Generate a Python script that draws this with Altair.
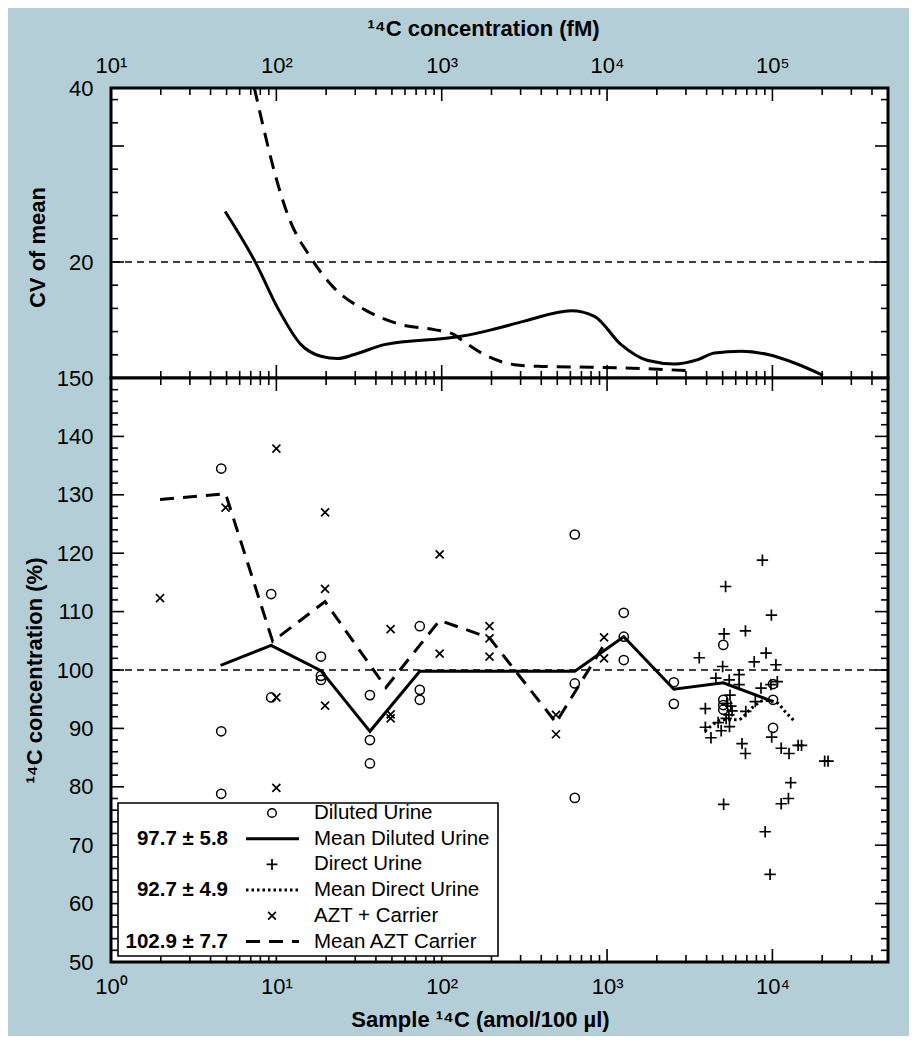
import altair as alt
import pandas as pd

# ---------------- data ----------------
# bottom panel: sample 14C (amol/100 ul) vs 14C concentration (%)
diluted_x = [4.64, 4.64, 4.64, 9.3, 9.3, 18.6, 18.6, 18.6, 36.8, 36.8, 36.8,
             73.7, 73.7, 73.7, 638, 638, 638, 1262, 1262, 1262, 2535, 2535,
             5046, 5046, 5046, 5046, 10090, 10090, 10090]
diluted_y = [134.5, 89.5, 78.8, 113.0, 95.3, 102.3, 99.0, 98.3, 95.7, 88.0, 84.0,
             107.5, 96.6, 94.9, 123.2, 97.7, 78.1, 109.8, 105.7, 101.7, 97.9, 94.2,
             104.3, 94.9, 94.0, 93.2, 97.6, 94.9, 90.1]

mean_diluted_x = [4.6, 9.3, 18.6, 36.8, 73.7, 638, 1262, 2535, 5046, 10090]
mean_diluted_y = [100.8, 104.2, 99.9, 89.5, 99.8, 99.8, 105.7, 96.7, 97.8, 94.6]

direct_x = [8700, 5210, 9860, 5100, 6870, 3610, 5000, 7760, 9150, 10500,
            4550, 5480, 6290, 6290, 10700, 9800, 8530, 5540, 7880, 3930,
            6900, 5700, 5450, 5250, 3930, 4250, 5500, 6550, 6870, 9900,
            11300, 12600, 14300, 15000, 20700, 21700, 12900, 12500, 11300, 5070,
            9040, 9680, 5300, 5600, 4700, 4900]
direct_y = [118.8, 114.3, 109.4, 106.2, 106.7, 102.1, 100.6, 101.4, 102.9, 100.9,
            98.6, 98.3, 99.2, 97.5, 98.0, 97.5, 96.9, 95.7, 94.6, 93.4,
            92.9, 93.0, 92.3, 91.7, 90.2, 88.4, 90.3, 87.4, 85.7, 88.5,
            86.6, 85.7, 87.1, 87.1, 84.4, 84.4, 80.7, 78.0, 77.1, 77.0,
            72.3, 65.0, 94.3, 93.8, 91.0, 89.6]

mean_direct_x = [3900, 4300, 5000, 6200, 7500, 9000, 10500, 12000, 13500]
mean_direct_y = [89.5, 90.5, 91.5, 91.5, 93.5, 94.8, 94.5, 92.8, 91.3]

azt_x = [1.98, 4.93, 10.0, 10.0, 10.0, 19.7, 19.7, 19.7, 49.1, 49.1, 49.1,
         97.2, 97.2, 194.5, 194.5, 194.5, 491, 491, 959, 959]
azt_y = [112.3, 127.8, 137.9, 95.3, 79.8, 127.0, 113.9, 93.9, 107.0, 92.4, 91.7,
         119.8, 102.8, 107.5, 105.4, 102.3, 92.3, 89.0, 105.6, 102.0]

mean_azt_x = [1.98, 4.93, 9.5, 19.7, 46.0, 97.2, 194.5, 491, 959]
mean_azt_y = [129.2, 130.2, 104.9, 111.7, 97.0, 108.5, 105.5, 91.0, 104.3]

# top panel: CV of mean
cv_diluted_x = [4.9, 7.5, 10.2, 14.1, 18.6, 23.5, 29.6, 45, 131, 199, 316, 607,
                839, 1216, 1766, 2558, 3542, 4463, 6475, 9390, 13600, 20200]
cv_diluted_y = [25.8, 19.9, 14.7, 10.5, 9.16, 8.9, 9.36, 10.5, 11.46, 12.2, 13.2,
                14.4, 13.76, 10.5, 8.67, 8.28, 8.78, 9.54, 9.74, 9.36, 8.39, 6.98]

cv_azt_x = [7.36, 8.46, 9.72, 11.7, 16.2, 22.4, 35.7, 56.8, 90.3, 119, 131, 181,
            275, 400, 801, 1608, 3010]
cv_azt_y = [40.0, 35.02, 30.4, 25.45, 20.46, 17.0, 14.33, 12.8, 12.23, 11.65,
            11.08, 9.36, 8.2, 8.0, 7.9, 7.75, 7.52]

# axes
x_major = [1, 10, 100, 1000, 10000]
x_minor = [m * 10 ** e for e in range(0, 5) for m in range(2, 10) if m * 10 ** e <= 50000]
bottom_tick_labels = ["10⁰", "10¹", "10²", "10³", "10⁴"]
top_tick_labels = ["10¹", "10²", "10³", "10⁴", "10⁵"]
y_major = list(range(50, 151, 10))
y_minor = [v for v in range(52, 150, 2) if v % 10 != 0]
cv_labels = [20, 40]
cv_major = [20, 33.333]
cv_minor = [9.333, 12, 14.667, 17.333, 22.667, 25.333, 28, 30.667, 36, 38.667]

legend_labels = ["Diluted Urine", "Mean Diluted Urine", "Direct Urine",
                 "Mean Direct Urine", "AZT + Carrier", "Mean AZT Carrier"]
legend_numbers = ["", "97.7 ± 5.8", "", "92.7 ± 4.9", "", "102.9 ± 7.7"]

# ---------------- styling ----------------
FONT = "Liberation Sans"
BG = "#b3ced6"
W = 777
H_TOP = 290
H_BOT = 584
PLUS = "M-1,0L1,0M0,-1L0,1"
XSHAPE = "M-1,-1L1,1M-1,1L1,-1"

xscale = alt.Scale(type="log", domain=[1, 50000], nice=False)
yscale_bot = alt.Scale(domain=[50, 150], nice=False, zero=False)
yscale_top = alt.Scale(domain=[6.667, 40], nice=False, zero=False)


def label_expr(values, labels):
    parts = " : ".join(f"datum.value == {v} ? '{l}'" for v, l in zip(values, labels))
    return parts + " : ''"


def xticks(vals, y0, y1):
    return alt.Chart(pd.DataFrame({"v": vals})).mark_rule(
        color="black", strokeWidth=1.6).encode(
        x=alt.X("v:Q", scale=xscale, axis=None),
        y=alt.value(y0), y2=alt.value(y1))


def yticks(vals, x0, x1, yscale):
    return alt.Chart(pd.DataFrame({"v": vals})).mark_rule(
        color="black", strokeWidth=1.6).encode(
        y=alt.Y("v:Q", scale=yscale, axis=None),
        x=alt.value(x0), x2=alt.value(x1))


def line(xs, ys, yscale, dash=None, width=3.0, cap="butt", interp="linear"):
    kw = dict(color="black", strokeWidth=width, strokeCap=cap, clip=True,
              interpolate=interp)
    if dash:
        kw["strokeDash"] = dash
    return alt.Chart(pd.DataFrame({"x": xs, "y": ys, "o": range(len(xs))})).mark_line(**kw).encode(
        x=alt.X("x:Q", scale=xscale, axis=None),
        y=alt.Y("y:Q", scale=yscale, axis=None),
        order="o:Q")


# ---------------- top panel ----------------
top_axis_layer = alt.Chart(pd.DataFrame({"x": [1], "y": [20]})).mark_point(opacity=0).encode(
    x=alt.X("x:Q", scale=xscale, axis=alt.Axis(
        orient="top", values=x_major, labelExpr=label_expr(x_major, top_tick_labels),
        title="¹⁴C concentration (fM)", titleX=372, titleY=-60, titleBaseline="middle",
        titleAlign="center")),
    y=alt.Y("y:Q", scale=yscale_top, axis=alt.Axis(
        values=cv_labels, labelExpr=label_expr(cv_labels, ["20", "40"]),
        title="CV of mean", titleX=-74, titleY=159, titleBaseline="middle",
        titleAlign="center", titleAngle=-90)),
)

ref_top = alt.Chart(pd.DataFrame({"y": [20]})).mark_rule(
    color="black", strokeWidth=1.4, strokeDash=[7, 5]).encode(
    y=alt.Y("y:Q", scale=yscale_top, axis=None))

top = alt.layer(
    top_axis_layer,
    ref_top,
    line(cv_diluted_x, cv_diluted_y, yscale_top, interp="monotone", width=3),
    line(cv_azt_x, cv_azt_y, yscale_top, dash=[14, 9], interp="monotone", width=3),
    xticks(x_major, 0, 13), xticks(x_minor, 0, 7),
    xticks(x_major, H_TOP, H_TOP - 13), xticks(x_minor, H_TOP, H_TOP - 7),
    yticks(cv_major, 0, 13, yscale_top), yticks(cv_minor, 0, 7, yscale_top),
    yticks(cv_major, W, W - 13, yscale_top), yticks(cv_minor, W, W - 7, yscale_top),
).resolve_axis(x="independent", y="independent").properties(width=W, height=H_TOP)

# ---------------- bottom panel ----------------
bot_axis_layer = alt.Chart(pd.DataFrame({"x": [1], "y": [100]})).mark_point(opacity=0).encode(
    x=alt.X("x:Q", scale=xscale, axis=alt.Axis(
        orient="bottom", values=x_major, labelExpr=label_expr(x_major, bottom_tick_labels),
        title="Sample ¹⁴C (amol/100 µl)", titleX=369, titleY=57, titleBaseline="middle",
        titleAlign="center")),
    y=alt.Y("y:Q", scale=yscale_bot, axis=alt.Axis(
        values=y_major, title="¹⁴C concentration (%)", titleX=-77, titleY=292,
        titleBaseline="middle", titleAlign="center", titleAngle=-90)),
)

ref_bot = alt.Chart(pd.DataFrame({"y": [100]})).mark_rule(
    color="black", strokeWidth=1.4, strokeDash=[7, 5]).encode(
    y=alt.Y("y:Q", scale=yscale_bot, axis=None))


def points(xs, ys, shape, size, sw):
    return alt.Chart(pd.DataFrame({"x": xs, "y": ys})).mark_point(
        shape=shape, size=size, filled=False, color="black", strokeWidth=sw, opacity=1).encode(
        x=alt.X("x:Q", scale=xscale, axis=None),
        y=alt.Y("y:Q", scale=yscale_bot, axis=None))


# legend (drawn inside the bottom panel)
ROW0, STEP = 435, 25.7
leg = pd.DataFrame({
    "label": legend_labels,
    "number": legend_numbers,
    "py": [ROW0 + i * STEP for i in range(len(legend_labels))],
})
leg_box = alt.Chart(pd.DataFrame({"a": [0]})).mark_rect(
    fill="white", stroke="black", strokeWidth=1.6).encode(
    x=alt.value(7), x2=alt.value(387), y=alt.value(425), y2=alt.value(578))
leg_text = alt.Chart(leg).mark_text(align="left", baseline="middle", font=FONT,
                                    fontSize=20.5, color="black").encode(
    x=alt.value(203), y=alt.Y("py:Q", scale=None), text="label:N")
leg_num = alt.Chart(leg).mark_text(align="right", baseline="middle", font=FONT,
                                   fontSize=20.5, fontWeight="bold", color="black").encode(
    x=alt.value(117), y=alt.Y("py:Q", scale=None), text="number:N")


def leg_sym(i, shape, size, sw):
    return alt.Chart(leg.iloc[[i]]).mark_point(
        shape=shape, size=size, filled=False, color="black", strokeWidth=sw, opacity=1).encode(
        x=alt.value(161), y=alt.Y("py:Q", scale=None))


def leg_line(i, dash, width):
    kw = dict(color="black", strokeWidth=width)
    if dash:
        kw["strokeDash"] = dash
    return alt.Chart(leg.iloc[[i]]).mark_rule(**kw).encode(
        x=alt.value(135), x2=alt.value(188), y=alt.Y("py:Q", scale=None))


bottom = alt.layer(
    bot_axis_layer,
    ref_bot,
    line(mean_diluted_x, mean_diluted_y, yscale_bot, width=3),
    line(mean_direct_x, mean_direct_y, yscale_bot, dash=[2.5, 3], width=3, interp="monotone"),
    line(mean_azt_x, mean_azt_y, yscale_bot, dash=[14, 9], width=3),
    points(diluted_x, diluted_y, "circle", 85, 1.5),
    points(direct_x, direct_y, PLUS, 130, 1.7),
    points(azt_x, azt_y, XSHAPE, 64, 1.7),
    xticks(x_major, 0, 13), xticks(x_minor, 0, 7),
    xticks(x_major, H_BOT, H_BOT - 13), xticks(x_minor, H_BOT, H_BOT - 7),
    yticks(y_major, 0, 13, yscale_bot), yticks(y_minor, 0, 7, yscale_bot),
    yticks(y_major, W, W - 13, yscale_bot), yticks(y_minor, W, W - 7, yscale_bot),
    leg_box, leg_text, leg_num,
    leg_sym(0, "circle", 75, 1.5), leg_line(1, None, 3),
    leg_sym(2, PLUS, 120, 1.7), leg_line(3, [2.5, 3], 3),
    leg_sym(4, XSHAPE, 60, 1.7), leg_line(5, [14, 9], 3),
).resolve_axis(x="independent", y="independent").properties(width=W, height=H_BOT)

chart = alt.vconcat(top, bottom, spacing=0, bounds="flush").properties(
    background=BG,
    padding={"left": 13, "top": 7, "right": 18, "bottom": 4},
).configure_view(
    stroke="black", strokeWidth=3, fill="white"
).configure_axis(
    domain=False, ticks=False, tickSize=0, grid=False, labelFlush=False,
    labelFont=FONT, labelFontSize=22, labelColor="black",
    titleFont=FONT, titleFontSize=22, titleFontWeight="bold", titleColor="black",
).configure_axisLeft(
    labelPadding=18,
).configure_axisTop(
    labelPadding=11,
).configure_axisBottom(
    labelPadding=14,
)

chart.save("out.html", embed_options={"renderer": "svg", "actions": False})
